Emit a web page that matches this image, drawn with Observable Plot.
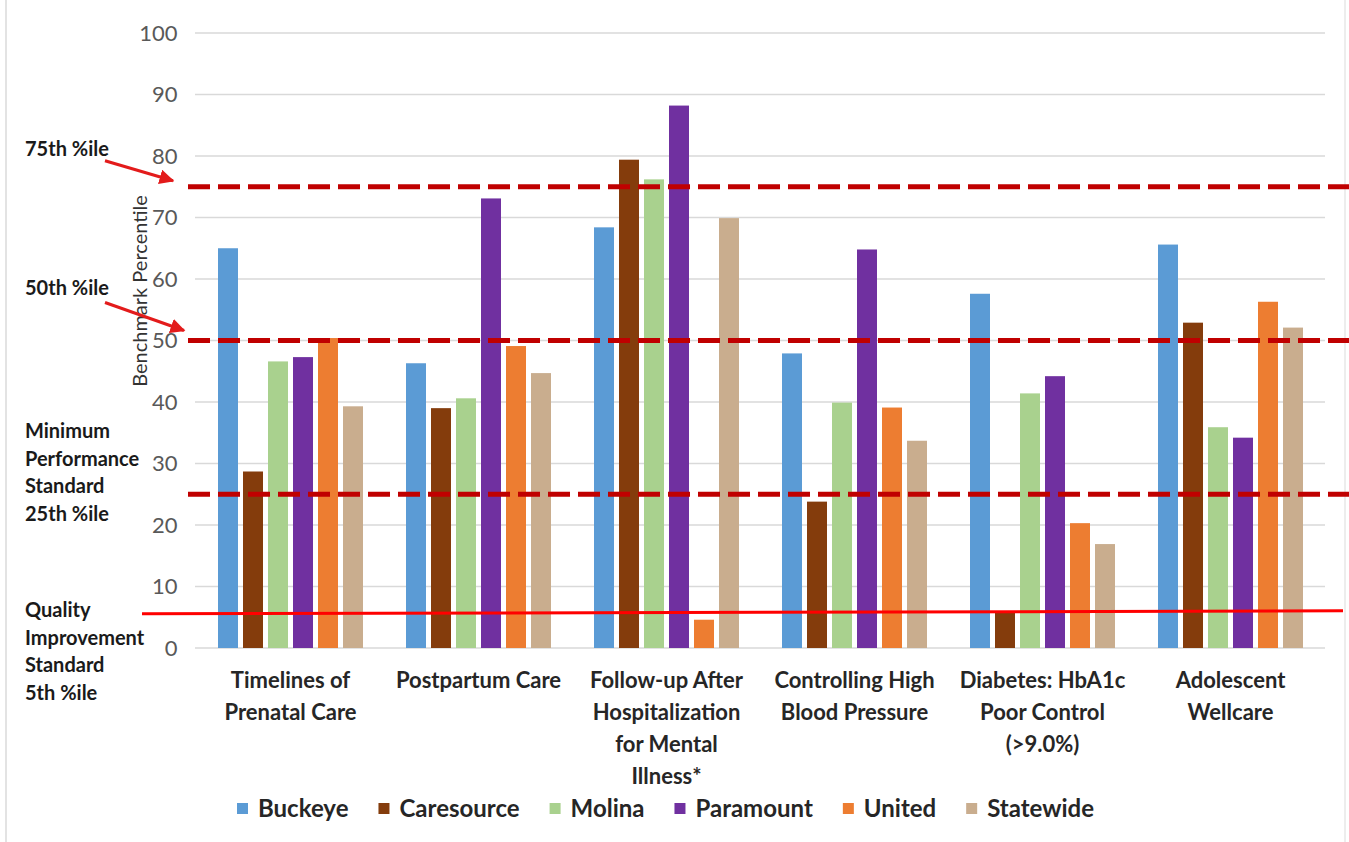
<!DOCTYPE html>
<html>
<head>
<meta charset="utf-8">
<script src="https://cdn.jsdelivr.net/npm/d3@7"></script>
<script src="https://cdn.jsdelivr.net/npm/@observablehq/plot@0.6"></script>
<style>
  html, body { margin: 0; padding: 0; background: #fff; }
  #chart { width: 1349px; height: 842px; }
</style>
</head>
<body>
<div id="chart"></div>
<script>
// ---- data ----
const categories = [
  "Timelines of Prenatal Care",
  "Postpartum Care",
  "Follow-up After Hospitalization for Mental Illness*",
  "Controlling High Blood Pressure",
  "Diabetes: HbA1c Poor Control (>9.0%)",
  "Adolescent Wellcare"
];
const categoryLabels = [
  "Timelines of\nPrenatal Care",
  "Postpartum Care",
  "Follow-up After\nHospitalization\nfor Mental\nIllness*",
  "Controlling High\nBlood Pressure",
  "Diabetes: HbA1c\nPoor Control\n(>9.0%)",
  "Adolescent\nWellcare"
];
const plans = ["Buckeye", "Caresource", "Molina", "Paramount", "United", "Statewide"];
const planColors = ["#5B9BD5", "#843C0C", "#A9D18E", "#7030A0", "#ED7D31", "#C9AD8E"];

const buckeye    = [65.0, 46.3, 68.4, 47.9, 57.6, 65.6];
const caresource = [28.7, 39.0, 79.4, 23.8,  5.9, 52.9];
const molina     = [46.6, 40.6, 76.2, 39.9, 41.4, 35.9];
const paramount  = [47.3, 73.1, 88.2, 64.8, 44.2, 34.2];
const united     = [50.4, 49.1,  4.6, 39.1, 20.3, 56.3];
const statewide  = [39.3, 44.7, 69.9, 33.7, 16.9, 52.1];

const yTicks = [0, 10, 20, 30, 40, 50, 60, 70, 80, 90, 100];
const yLabel = "Benchmark Percentile";

const benchmarkLevels = [75, 50, 25];     // dashed lines
const qualityLevel = 5.8;                 // solid line (5th %ile)

const annotation75 = ["75th %ile"];
const annotation50 = ["50th %ile"];
const annotation25 = ["Minimum", "Performance", "Standard", "25th %ile"];
const annotation5  = ["Quality", "Improvement", "Standard", "5th %ile"];

// ---- table ----
const seriesValues = [buckeye, caresource, molina, paramount, united, statewide];
const rows = [];
categories.forEach((c, i) => {
  plans.forEach((p, j) => rows.push({category: c, plan: p, value: seriesValues[j][i]}));
});

const FONT = "Lato, 'Liberation Sans', sans-serif";

const plot = Plot.plot({
  width: 1349,
  height: 842,
  marginTop: 33,
  marginBottom: 194,
  marginLeft: 195,
  marginRight: 24,
  style: {fontFamily: FONT, background: "white", overflow: "visible"},
  fx: {domain: categories, paddingInner: 0.2, paddingOuter: 0.1, label: null, axis: null},
  x: {domain: plans, paddingInner: 0.2, paddingOuter: 0.1, axis: null},
  y: {domain: [0, 100], axis: null},
  color: {domain: plans, range: planColors},
  marks: [
    Plot.barY(rows, {fx: "category", x: "plan", y: "value", fill: "plan"}),
    Plot.axisY({ticks: yTicks, tickSize: 0, tickPadding: 38, fontSize: 22, fill: "#595959", label: null}),
    Plot.axisFx({
      anchor: "bottom", tickSize: 0, tickPadding: 17, fontSize: 22, fontWeight: "bold",
      fill: "#262626", lineHeight: 32 / 22, label: null,
      tickFormat: d => categoryLabels[categories.indexOf(d)]
    })
  ]
});

document.getElementById("chart").appendChild(plot);

// ---- overlays drawn with the plot's own y scale ----
const y = plot.scale("y");
const svg = d3.select(plot);
const left = 195, right = 1349 - 24;

// gridlines under the bars
const grid = svg.insert("g", ":first-child");
grid.selectAll("line").data(yTicks).join("line")
  .attr("x1", left).attr("x2", right)
  .attr("y1", d => y.apply(d)).attr("y2", d => y.apply(d))
  .attr("stroke", "#D9D9D9").attr("stroke-width", 1.3);

// border lines
const frame = svg.insert("g", ":first-child");
frame.append("line").attr("x1", 6).attr("x2", 6).attr("y1", 0).attr("y2", 842)
  .attr("stroke", "#E3E3E3").attr("stroke-width", 2);
frame.append("line").attr("x1", 1345).attr("x2", 1345).attr("y1", 0).attr("y2", 842)
  .attr("stroke", "#EDEDED").attr("stroke-width", 2);

// reference lines on top
const refs = svg.append("g");
refs.selectAll("line.bench").data(benchmarkLevels).join("line")
  .attr("class", "bench")
  .attr("x1", 188).attr("x2", 1349)
  .attr("y1", d => y.apply(d)).attr("y2", d => y.apply(d))
  .attr("stroke", "#C00000").attr("stroke-width", 5)
  .attr("stroke-dasharray", "22,8");
refs.append("line")
  .attr("x1", 142).attr("x2", 1343)
  .attr("y1", y.apply(qualityLevel) + 1.5).attr("y2", y.apply(qualityLevel) - 1.5)
  .attr("stroke", "#FF0000").attr("stroke-width", 3);

// y axis title
svg.append("text")
  .attr("transform", `translate(147, 291) rotate(-90)`)
  .attr("text-anchor", "middle")
  .attr("font-family", FONT).attr("font-size", 20).attr("fill", "#333")
  .text(yLabel);

// left annotations
const ann = svg.append("g").attr("font-family", FONT).attr("font-size", 20)
  .attr("font-weight", "bold").attr("fill", "#1a1a1a").attr("text-anchor", "start");
function block(lines, yStart, step) {
  lines.forEach((t, i) => ann.append("text").attr("x", 25).attr("y", yStart + i * step).text(t));
}
block(annotation75, y.apply(75) - 31, 27);
block(annotation50, y.apply(50) - 46, 27);
block(annotation25, 438, 27.5);
block(annotation5, 617, 27.5);

// arrows
const defs = svg.append("defs");
defs.append("marker").attr("id", "ah").attr("viewBox", "0 0 10 10")
  .attr("refX", 9).attr("refY", 5).attr("markerWidth", 5).attr("markerHeight", 5)
  .attr("orient", "auto")
  .append("path").attr("d", "M0,0 L10,5 L0,10 z").attr("fill", "#E31B1B");
[[75, -6, 173], [50, -10, 184]].forEach(([lvl, off, tipX]) => {
  svg.append("line")
    .attr("x1", 105).attr("y1", y.apply(lvl) + off - 20 - (lvl === 50 ? 8 : 0))
    .attr("x2", tipX).attr("y2", y.apply(lvl) + off)
    .attr("stroke", "#E31B1B").attr("stroke-width", 3)
    .attr("marker-end", "url(#ah)");
});

// legend
const color = plot.scale("color");
const leg = svg.append("g").attr("font-family", FONT).attr("font-size", 24)
  .attr("font-weight", "bold").attr("fill", "#262626").attr("text-anchor", "start");
let lx = 237;
const ly = 809;
plans.forEach(p => {
  leg.append("rect").attr("x", lx).attr("y", ly - 6).attr("width", 11).attr("height", 11)
    .attr("fill", color.apply(p));
  const t = leg.append("text").attr("x", lx + 21).attr("y", ly + 8).text(p);
  lx += 21 + t.node().getComputedTextLength() + 30;
});
</script>
</body>
</html>
